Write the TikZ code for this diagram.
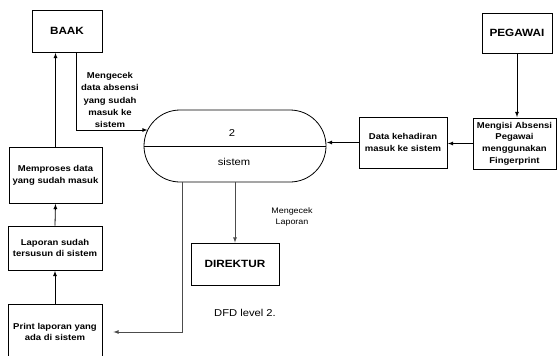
\documentclass[tikz,border=0pt]{standalone}
\usepackage{fontspec}
\setmainfont[FakeStretch=1.12]{Liberation Sans}
\usetikzlibrary{arrows,positioning}

\begin{document}
\begin{tikzpicture}[x=1pt, y=-1pt, >=latex, line width=0.8pt,
    entity/.style={draw, align=center, inner sep=2pt,
      font=\fontsize{10.5}{12}\selectfont\bfseries},
    proses/.style={draw, align=center, inner sep=2pt,
      font=\fontsize{8.5}{11.7}\selectfont\bfseries},
    flow/.style={->, shorten >=0.5pt},
    grayflow/.style={->, draw=black!70}]
  \useasboundingbox (0,0) rectangle (557,356);
  \clip (0,0) rectangle (557,356);

  \node[entity, minimum width=70pt, minimum height=42pt] (baak)     at (67,31)    {BAAK};
  \node[entity, minimum width=70pt, minimum height=40pt] (pegawai)  at (517,33)   {PEGAWAI};
  \node[entity, minimum width=88pt, minimum height=42pt] (direktur) at (235,264)  {DIREKTUR};
  \node[proses, minimum width=93pt, minimum height=56pt] (memproses) at (55.5,175) {Memproses data\\yang sudah masuk};
  \node[proses, minimum width=94pt, minimum height=44pt] (laporan)  at (55,248)   {Laporan sudah\\tersusun di sistem};
  \node[proses, minimum width=94pt, minimum height=56pt] (print)    at (55,332)   {Print laporan yang\\ada di sistem};
  \node[proses, minimum width=88pt, minimum height=51pt] (kehadiran) at (403,142.5) {Data kehadiran\\masuk ke sistem};
  \node[proses, minimum width=83pt, minimum height=51pt] (mengisi)  at (514.5,143.5) {Mengisi Absensi\\Pegawai\\menggunakan\\Fingerprint};

  % proses 2
  \node[draw, rounded corners=36pt, minimum width=182pt, minimum height=72pt] (proc) at (235,146) {};
  \draw (proc.west) -- (proc.east);
  \node[font=\fontsize{10}{12}\selectfont] (nomor)  at (232,133) {2};
  \node[font=\fontsize{10}{12}\selectfont] (sistem) at (234,162) {sistem};
  \coordinate (procin) at (148,130);

  \node[font=\fontsize{8.5}{12.2}\selectfont\bfseries, align=center] (cek) at (110,100)
    {Mengecek\\data absensi\\yang sudah\\masuk ke\\sistem};
  \node[font=\fontsize{8}{10.5}\selectfont, align=center] (ceklap) at (292,217) {Mengecek\\Laporan};
  \node[font=\fontsize{10}{12}\selectfont] (judul) at (245,313) {DFD level 2.};

  \draw[flow] (memproses.north) -- (memproses.north |- baak.south);
  \draw[flow] (laporan.north) -- (memproses.south);
  \draw[flow] (print.north) -- (laporan.south);
  \draw[flow] ([xshift=9pt]baak.south) |- (procin);
  \draw[flow] (pegawai.south) -- (pegawai.south |- mengisi.north);
  \draw[flow] (mengisi.west) -- (mengisi.west -| kehadiran.east);
  \draw[flow] (kehadiran.west) -- (kehadiran.west -| proc.east);
  \draw[grayflow] (proc.south) -- (direktur.north);
  \draw[grayflow, shorten >=11pt] ([xshift=-53pt]proc.south) |- (print.east);
\end{tikzpicture}
\end{document}
